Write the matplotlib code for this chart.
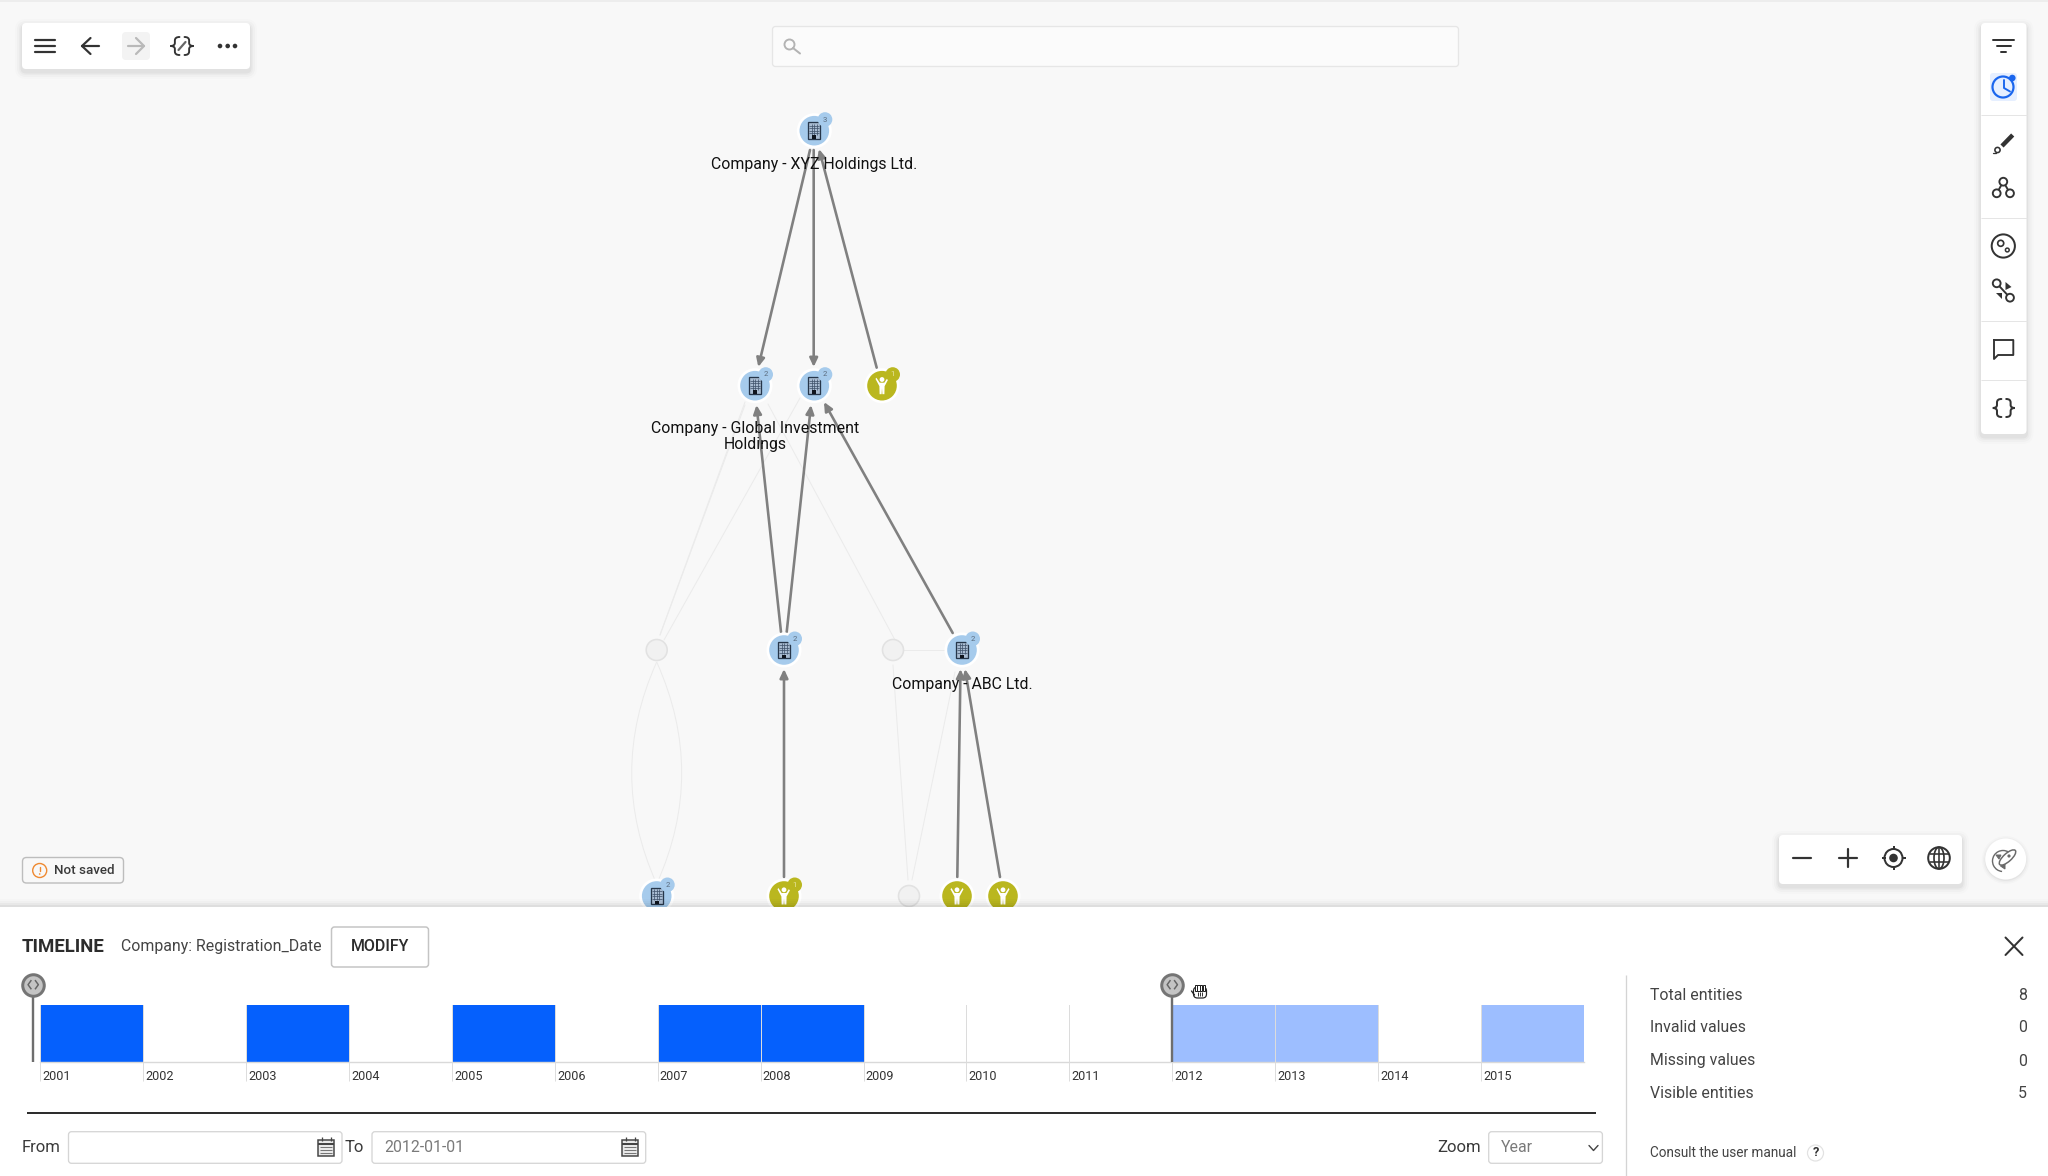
import matplotlib
matplotlib.use("Agg")
import matplotlib.pyplot as plt
from matplotlib.patches import Circle, Rectangle, FancyBboxPatch, FancyArrowPatch, Polygon, Ellipse, PathPatch, Arc
from matplotlib.path import Path
from matplotlib.transforms import ScaledTranslation

plt.rcParams['font.family'] = ['Roboto', 'DejaVu Sans']

# ---------- data ----------
years = list(range(2001, 2016))
counts = [1, 0, 1, 0, 1, 0, 1, 1, 0, 0, 0, 1, 1, 0, 1]
range_from = 2000.93
range_to = 2012

stat_labels = ["Total entities", "Invalid values", "Missing values", "Visible entities"]
stat_values = [8, 0, 0, 5]

# graph nodes: (x, y, badge)
company_nodes = [(814.3, 130.7, "3"), (755, 385.7, "2"), (814.3, 385.7, "2"),
                 (784, 650, "2"), (962, 650, "2"), (656.7, 896, "2")]
person_nodes = [(882, 385.7, "1"), (784, 896, "1"), (957, 896, ""), (1003, 896, "")]
ghost_nodes = [(656.7, 650), (893, 650), (909, 896)]

node_labels = [(814, 164, "Company - XYZ Holdings Ltd."),
               (755, 428, "Company - Global Investment"),
               (755, 444, "Holdings"),
               (962, 684, "Company - ABC Ltd.")]

strong_edges = [((810, 150), (758.3, 367)), ((813.7, 150), (813.7, 367)),
                ((876.7, 367.7), (819, 149)), ((781, 632), (756.5, 405)),
                ((786.7, 632), (811, 405)), ((952.7, 633), (824, 402)),
                ((784, 877), (784, 669)), ((957.3, 877), (960.5, 669)),
                ((1000, 877), (965, 669))]

faint_edges = [((660, 635), (745, 405)), ((664, 640), (800, 398)),
               ((768, 404), (895, 640)), ((745, 402), (660, 635)),
               ((893, 650), (945, 650)), ((893, 665), (908, 880)),
               ((912, 880), (955, 672))]

stat_ys = [995, 1028, 1061, 1094]

# ---------- figure ----------
fig = plt.figure(figsize=(20.48, 11.76), dpi=100)
ax = fig.add_axes([0, 0, 1, 1])
ax.set_xlim(0, 2048)
ax.set_ylim(1176, 0)
ax.axis("off")
ax.add_patch(Rectangle((0, 0), 2048, 1176, fc="#f8f8f8", ec="none", zorder=0))
ax.plot([0, 2048], [0.5, 0.5], color="#ebebeb", lw=1.2, zorder=0.5)

DARK = "#333333"


def px(v):
    return v * 0.72


def rbox(x0, y0, x1, y1, r=4, fc="white", ec="none", lw=1.0, z=5, alpha=None):
    p = FancyBboxPatch((x0, y0), x1 - x0, y1 - y0, boxstyle=f"round,pad=0,rounding_size={r}",
                       fc=fc, ec=ec, lw=px(lw), zorder=z, alpha=alpha)
    ax.add_patch(p)
    return p


def shadow_box(x0, y0, x1, y1, r=5, z=4):
    for g, a in [(7, 0.012), (5, 0.018), (3, 0.025), (1.5, 0.035)]:
        rbox(x0 - g, y0 - g + 3, x1 + g, y1 + g + 3, r=r + g, fc="black", z=z, alpha=a)
    rbox(x0, y0, x1, y1, r=r, z=z + 0.5)


def ln(xs, ys, c=DARK, w=2.2, z=6, cap="round"):
    ax.plot(xs, ys, color=c, lw=px(w), zorder=z, solid_capstyle=cap, solid_joinstyle="round")


def circ(x, y, r, fc="none", ec="none", w=1.0, z=6):
    ax.add_patch(Circle((x, y), r, fc=fc, ec=ec, lw=px(w), zorder=z))


def txt(x, y, s, size, c="#333333", ha="left", weight="normal", z=7):
    ax.text(x, y, s, fontsize=size, color=c, ha=ha, va="center", fontweight=weight, zorder=z)


def brace(cx, cy, w, h, c=DARK, lw=2.2, z=6):
    """curly braces drawn as bezier paths"""
    for sgn in (-1, 1):
        tip = cx + sgn * w
        spine = cx + sgn * w * 0.62
        end = cx + sgn * w * 0.22
        t, b = cy - h, cy + h
        verts = [(end, t), (spine, t), (spine, t + 3.5), (spine, cy - 3), (spine, cy), (tip, cy),
                 (spine, cy), (spine, cy + 3), (spine, b - 3.5), (spine, b), (end, b)]
        codes = [Path.MOVETO, Path.CURVE3, Path.CURVE3, Path.LINETO, Path.CURVE3, Path.CURVE3,
                 Path.CURVE3, Path.CURVE3, Path.LINETO, Path.CURVE3, Path.CURVE3]
        ax.add_patch(PathPatch(Path(verts, codes), fc="none", ec=c, lw=px(lw), zorder=z, capstyle="round"))


# ---------- faint edges ----------
FAINT = "#ebebeb"
for (a, b) in faint_edges:
    ln([a[0], b[0]], [a[1], b[1]], c=FAINT, w=1.0, z=1)
for sgn in (-1, 1):
    verts = [(656.7, 662), (656.7 + sgn * 50, 773), (656.7, 884)]
    ax.add_patch(PathPatch(Path(verts, [Path.MOVETO, Path.CURVE3, Path.CURVE3]), fc="none", ec=FAINT,
                           lw=px(1.0), zorder=1))

# ---------- strong edges ----------
for (a, b) in strong_edges:
    ax.add_patch(FancyArrowPatch(a, b, arrowstyle="-|>,head_length=0.32,head_width=0.15", mutation_scale=16,
                                 color="#808080", lw=px(2.6), shrinkA=0, shrinkB=0, zorder=2))


# ---------- nodes ----------
def building(x, y):
    ax.add_patch(Rectangle((x - 6.2, y - 8.5), 12.4, 16.5, fc="#a9bcd2", ec="#26364a", lw=px(1.3), zorder=3.5))
    for dy in (-5, -2.5, 0, 2.5):
        ln([x - 5, x + 5], [y + dy, y + dy], c="#3d5068", w=0.7, z=3.6, cap="butt")
    for dx in (-2.5, 0, 2.5):
        ln([x + dx, x + dx], [y - 7, y + 4], c="#3d5068", w=0.7, z=3.6, cap="butt")
    ax.add_patch(Rectangle((x - 2, y + 4.5), 4, 3.5, fc="#10151e", ec="none", zorder=3.7))


def person(x, y):
    circ(x, y - 6.2, 2.4, fc="white", z=3.5)
    ax.add_patch(Polygon([(x - 5.6, y - 8), (x - 2.3, y - 3), (x + 2.3, y - 3), (x + 5.6, y - 8), (x + 6.5, y - 6.8),
                          (x + 2.6, y + 0.5), (x + 2.4, y + 8.5), (x + 0.4, y + 8.5), (x, y + 2.5), (x - 0.4, y + 8.5),
                          (x - 2.4, y + 8.5), (x - 2.6, y + 0.5), (x - 6.5, y - 6.8)], fc="white", ec="none", zorder=3.5))


def badge(x, y, s, fc):
    if not s:
        return
    circ(x + 10.7, y - 11.2, 7.3, fc=fc, z=3.8)
    ax.text(x + 10.9, y - 11.2, s, fontsize=5.5, color="#5a6b7d" if fc != "#bab71f" else "#e8e6a5",
            ha="center", va="center", zorder=3.9)


BLUE_NODE = "#a6cbec"
OLIVE = "#bab71f"
for (x, y, b) in company_nodes:
    circ(x, y, 17.5, fc="white", z=3)
    circ(x, y, 14.8, fc=BLUE_NODE, z=3.2)
    building(x, y)
    badge(x, y, b, BLUE_NODE)
for (x, y, b) in person_nodes:
    circ(x, y, 17.5, fc="white", z=3)
    circ(x, y, 14.8, fc=OLIVE, z=3.2)
    person(x, y)
    badge(x, y, b, OLIVE)
for (x, y) in ghost_nodes:
    circ(x, y, 10.5, fc="#f1f1f1", ec="#e2e2e2", w=1.6, z=3)

for (x, y, s) in node_labels:
    txt(x, y, s, 11.45, c="#111111", ha="center", z=4.5)

# ---------- top left toolbar ----------
shadow_box(22, 23, 250, 69, r=4)
for yy in (39.5, 46, 52):
    ln([34.5, 54.5], [yy, yy], w=2.2)
ln([82, 99], [46, 46])
ln([90.5, 82, 90.5], [38, 46, 54])
rbox(122, 32, 150, 60, r=4, fc="#f3f3f3", z=5.5)
ln([128, 144], [46, 46], c="#b9b9b9")
ln([136, 144, 136], [38, 46, 54], c="#b9b9b9")
brace(182, 46, 11.5, 9, lw=1.9)
ln([178.5, 185.5], [50, 42], c="#666666", w=2.2)
for xx in (220, 227.7, 235):
    circ(xx, 46, 2.3, fc=DARK)

# ---------- search box ----------
rbox(772.5, 26.5, 1458.5, 66.5, r=3, fc="#fbfbfb", ec="#e6e6e6", lw=1.3, z=5)
circ(789.5, 44.5, 5, ec="#b3b3b3", w=1.9)
ln([793, 800], [48, 53.5], c="#b3b3b3", w=2)

# ---------- right toolbar ----------
shadow_box(1981, 23, 2026.5, 434, r=4)
for yy in (115, 218, 321, 380):
    ln([1981, 2026.5], [yy, yy], c="#e5e5e5", w=1, cap="butt")
ln([1993, 2014], [39.5, 39.5], w=2)
ln([1996.7, 2010.7], [46, 46], w=2)
ln([2001, 2006], [52, 52], w=2)
BL = "#1a66ee"
rbox(1990, 73, 2017, 101, r=3, fc="#e6efff", z=5.5)
circ(2003, 87, 10.5, ec=BL, w=2.2)
ln([2004, 2004, 2010], [80, 88, 91.5], c=BL, w=1.9)
circ(2012.3, 78, 3.3, fc=BL, z=6.5)
ln([2002, 2012.7], [146, 135], w=4.4, cap="butt")
circ(1997.5, 150, 2.6, ec=DARK, w=1.6)
ln([1992.5, 1996], [152.5, 152.5], w=1.3)
for (a, b) in [((2003.3, 181.7), (1996.7, 193.3)), ((2003.3, 181.7), (2010, 193.3))]:
    ln([a[0], b[0]], [a[1], b[1]], w=1.9)
for (xx, yy) in [(2003.3, 181.7), (1996.7, 193.3), (2010, 193.3)]:
    circ(xx, yy, 3.9, fc="white", ec=DARK, w=1.9, z=6.3)
circ(2003.3, 246, 11.6, ec=DARK, w=2)
circ(2000.7, 243.3, 3, ec=DARK, w=1.7)
circ(2007.3, 250, 1.9, ec=DARK, w=1.5)
ln([1996.7, 2010], [283.3, 297.7], w=1.9)
circ(1996.7, 283.3, 3.9, fc="white", ec=DARK, w=1.9, z=6.3)
circ(2010, 297.7, 3.9, fc="white", ec=DARK, w=1.9, z=6.3)
ax.add_patch(Polygon([(2005.5, 282), (2011.5, 287), (2005.5, 290)], fc=DARK, zorder=6))
ax.add_patch(Polygon([(1995.5, 293), (2001.5, 293), (2001.5, 299)], fc=DARK, zorder=6))
ln([1994, 2013.3, 2013.3, 1998, 1994, 1994], [340, 340, 355, 355, 359, 340], w=1.9)
brace(2003.8, 408, 11, 9, lw=2)

# ---------- zoom toolbar ----------
shadow_box(1779, 835, 1962, 884, r=4)
ln([1793, 1811], [858, 858], w=2.2)
ln([1839, 1857], [858, 858], w=2.2)
ln([1848, 1848], [849, 867], w=2.2)
circ(1893.5, 858, 9, ec=DARK, w=2)
circ(1893.5, 858, 4.3, fc=DARK)
for (a, b) in [((1893.5, 846), (1893.5, 850)), ((1893.5, 866), (1893.5, 870)),
               ((1881.5, 858), (1885.5, 858)), ((1901.5, 858), (1905.5, 858))]:
    ln([a[0], b[0]], [a[1], b[1]], w=2, cap="butt")
circ(1939, 858, 10.8, ec=DARK, w=2)
ax.add_patch(Ellipse((1939, 858), 10, 21.6, fc="none", ec=DARK, lw=px(1.7), zorder=6))
for yy in (854.3, 861.7):
    ln([1929.5, 1948.5], [yy, yy], w=1.6, cap="butt")
ln([1939, 1939], [847.5, 868.5], w=1.6, cap="butt")

# rocket button
for g, a in [(4, 0.015), (2.5, 0.025), (1, 0.04)]:
    circ(2005.7, 860, 20 + g, fc="black", z=4)
    ax.patches[-1].set_alpha(a)
circ(2005.7, 859, 20.5, fc="white", z=4.5)
ax.add_patch(Arc((2003, 861), 21, 21, theta1=95, theta2=330, ec="#6a6a6a", lw=px(1.4), zorder=6))
ax.add_patch(Ellipse((2007.5, 857.5), 21, 8, angle=-42, fc="white", ec="#6a6a6a", lw=px(1.5), zorder=6.2))
ax.add_patch(Polygon([(2001, 855), (1996, 855), (1999, 859)], fc="#6a6a6a", ec="#6a6a6a", lw=px(1), zorder=6.1))
ax.add_patch(Polygon([(2005, 864), (2005, 869), (2000.5, 866)], fc="#6a6a6a", ec="#6a6a6a", lw=px(1), zorder=6.1))
circ(2009, 856, 1.6, fc="#6a6a6a", z=6.4)

# ---------- not saved ----------
rbox(22.5, 857.5, 123.5, 883, r=4, fc="#f8f8f8", ec="#bdbdbd", lw=1.4, z=5)
circ(39.7, 870.5, 7, ec="#ef8a32", w=1.4)
ln([39.7, 39.7], [866.5, 871], c="#ef8a32", w=1.4)
circ(39.7, 874, 0.8, fc="#ef8a32")
txt(53.5, 870.5, "Not saved", 9.6, c="#3a3a3a", weight="medium")

# ---------- timeline panel ----------
for i, a in enumerate([0.012, 0.02, 0.03, 0.04]):
    ax.add_patch(Rectangle((0, 899 + i * 2), 2048, 8, fc="black", ec="none", alpha=a, zorder=8))
ax.add_patch(Rectangle((0, 906.7), 2048, 270, fc="white", ec="none", zorder=9))


def ptxt(x, y, s, size, c="#333333", ha="left", weight="normal"):
    ax.text(x, y, s, fontsize=size, color=c, ha=ha, va="center", fontweight=weight, zorder=12)


def pln(xs, ys, c=DARK, w=1.5, cap="butt"):
    ax.plot(xs, ys, color=c, lw=px(w), zorder=12, solid_capstyle=cap, solid_joinstyle="round")


def pbox(x0, y0, x1, y1, ec="#d5d5d5", lw=1.3, r=3):
    return rbox(x0, y0, x1, y1, r=r, fc="white", ec=ec, lw=lw, z=11)


ptxt(21.5, 946.7, "TIMELINE", 13.4, c="#2c2c2c", weight="bold")
ptxt(121, 946.7, "Company: Registration_Date", 11.45, c="#444444")
pbox(331.5, 927, 428.5, 967, ec="#c4c4c4", lw=1.5)
ptxt(380, 946.7, "MODIFY", 11.5, c="#2c2c2c", ha="center", weight="medium")
pln([2005.5, 2022.5], [937.5, 955], w=2, cap="round")
pln([2005.5, 2022.5], [955, 937.5], w=2, cap="round")

# divider and black rule
pln([1626, 1626], [975, 1176], c="#d4d4d4", w=1.3)
pln([27, 1596], [1112.5, 1112.5], c="#2e2e2e", w=2)

# form row
ptxt(21.5, 1147.7, "From", 12, c="#3a3a3a")
pbox(68.5, 1131.7, 342, 1163.3)
ptxt(345, 1147.7, "To", 12, c="#3a3a3a")
pbox(372, 1131.7, 645.7, 1163.3)
ptxt(384, 1147.7, "2012-01-01", 11.4, c="#7a7a7a")


def calendar(x, y):
    ax.add_patch(Rectangle((x - 8, y - 8), 16, 16.5, fc="#e8e8e8", ec="#444444", lw=px(1.5), zorder=12))
    pln([x - 8, x + 8], [y - 4, y - 4], c="#444444", w=2)
    pln([x - 4.5, x - 4.5], [y - 11, y - 7], c="#444444", w=1.3)
    pln([x + 4.5, x + 4.5], [y - 11, y - 7], c="#444444", w=1.3)
    for dy in (-1, 2, 5):
        pln([x - 6, x + 6], [y + dy, y + dy], c="#777777", w=1)


calendar(326, 1147.7)
calendar(630, 1147.7)

ptxt(1437, 1147.7, "Zoom", 12, c="#3a3a3a")
pbox(1488.7, 1131.7, 1602.4, 1163.3)
ptxt(1501, 1147.7, "Year", 11.4, c="#7a7a7a")
pln([1589, 1593.5, 1598], [1145.5, 1150.5, 1145.5], c="#444444", w=1.4, cap="round")

# stats
for lab, val, yy in zip(stat_labels, stat_values, stat_ys):
    ptxt(1650, yy, lab, 11.4, c="#444444")
    ptxt(2027, yy, str(val), 11.4, c="#444444", ha="right")
ptxt(1650, 1153, "Consult the user manual", 9.8, c="#444444")
ax.add_patch(Circle((1815.5, 1153), 8, fc="white", ec="#e2e2e2", lw=px(1.2), zorder=11))
ptxt(1815.5, 1153, "?", 9.2, c="#333333", ha="center", weight="bold")

# ---------- timeline chart, in its own year axes ----------
X0, Y0 = 40.4, 1062.0
YEAR_W = 102.9
ax_t = fig.add_axes([X0 / 2048, 1 - Y0 / 1176, YEAR_W * 15 / 2048, 57 / 1176], zorder=5)
ax_t.patch.set_alpha(0)
ax_t.set_xlim(2001, 2016)
ax_t.set_ylim(0, 1)
bar_cols = ["#0560fd" if y < range_to else "#9dbeff" for y in years]
ax_t.bar(years, counts, width=1, align="edge", color=bar_cols, linewidth=0, zorder=2)
ax_t.set_yticks([])
for s in ("left", "right", "top"):
    ax_t.spines[s].set_visible(False)
ax_t.spines["bottom"].set_color("#d9d9d9")
ax_t.spines["bottom"].set_linewidth(px(1.4))
ax_t.spines["bottom"].set_bounds(2001, 2016)
ax_t.set_xticks(years)
ax_t.set_xticklabels([str(y) for y in years], fontsize=9.1, color="#333333", ha="left")
ax_t.tick_params(axis="x", length=13.7, width=px(1), color="#dddddd", pad=-7.6)
off = ScaledTranslation(2.0 / 100, 0, fig.dpi_scale_trans)
for lab in ax_t.get_xticklabels():
    lab.set_transform(lab.get_transform() + off)
ax_t.grid(axis="x", color="#dcdcdc", lw=px(1), zorder=3)
ax_t.set_axisbelow(False)

# range handles
HANDLE_TOP = (Y0 - 984.7) / 57
for h in (range_from, range_to):
    ax_t.plot([h, h], [0, HANDLE_TOP], color="#6e6e6e", lw=px(2.4), clip_on=False, zorder=6, solid_capstyle="butt")
    ax_t.plot([h], [HANDLE_TOP], marker="o", ms=15.5, mfc="#c4c4c4", mec="#757575", mew=px(3), clip_on=False, zorder=7)
    ax_t.plot([h - 0.022, h - 0.05, h - 0.022], [HANDLE_TOP + 0.07, HANDLE_TOP, HANDLE_TOP - 0.07],
              color="#666666", lw=px(1.5), clip_on=False, zorder=8)
    ax_t.plot([h + 0.022, h + 0.05, h + 0.022], [HANDLE_TOP + 0.07, HANDLE_TOP, HANDLE_TOP - 0.07],
              color="#666666", lw=px(1.5), clip_on=False, zorder=8)

# hand cursor
cx, cy = 1199.5, 992
rbox(cx - 6, cy - 5, cx + 7, cy + 6, r=4, fc="white", ec="#222222", lw=1.2, z=12)
ax.add_patch(Rectangle((cx - 5, cy - 6), 11, 5, fc="white", ec="none", zorder=12.2))
for dx in (-4, -1.3, 1.4, 4.1):
    ax.add_patch(Rectangle((cx + dx - 1, cy - 7), 2.4, 6, fc="white", ec="#222222", lw=px(1), zorder=12.3))
for dx in (-1.5, 0.7, 2.9):
    pln([cx + dx, cx + dx], [cy, cy + 4], c="#222222", w=0.9)
pln([cx - 8, cx - 5], [cy - 1, cy + 3], c="#222222", w=1.3, cap="round")

fig.savefig("out.png", dpi=100)
